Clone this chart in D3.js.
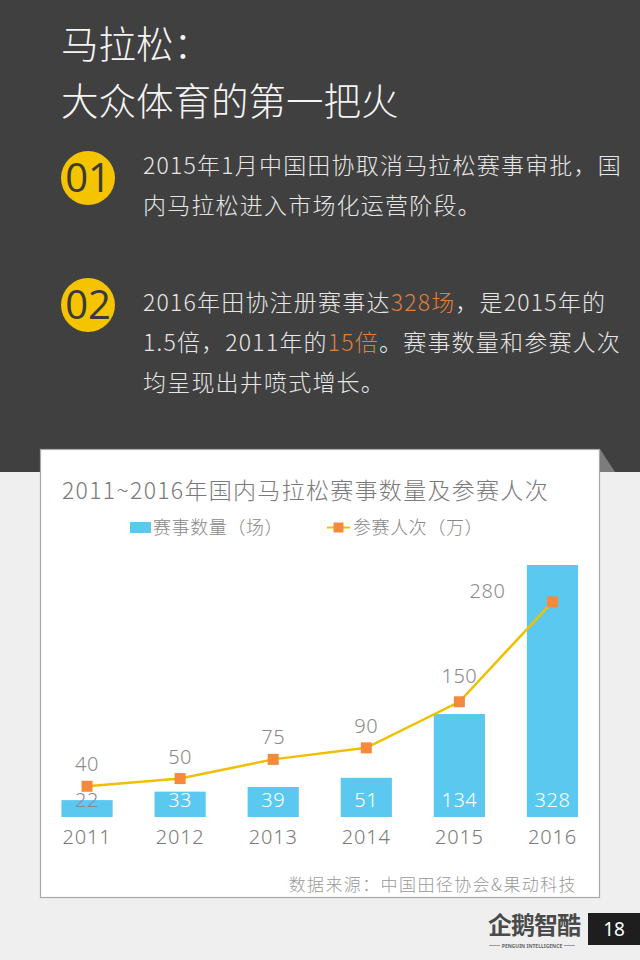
<!DOCTYPE html>
<html>
<head>
<meta charset="utf-8">
<script src="https://cdn.jsdelivr.net/npm/d3@7"></script>
<style>
  html, body { margin: 0; padding: 0; background: #efefef; }
  svg { display: block; }
  text { font-family: "Noto Sans CJK SC", "Noto Sans", sans-serif; font-weight: 300; }
</style>
</head>
<body>
<svg id="chart" width="640" height="960"></svg>
<script>
// ---- data ----
const years = ["2011", "2012", "2013", "2014", "2015", "2016"];
const raceCounts = [22, 33, 39, 51, 134, 328];      // 赛事数量（场）
const participants = [40, 50, 75, 90, 150, 280];    // 参赛人次（万）
const chartTitle = "2011~2016年国内马拉松赛事数量及参赛人次";
const legendLabels = ["赛事数量（场）", "参赛人次（万）"];
const sourceNote = "数据来源：中国田径协会&果动科技";

const svg = d3.select("#chart");
const W = 640, H = 960;
const numFont = "'Noto Sans', 'Open Sans', sans-serif";

// ---- backgrounds ----
svg.append("rect").attr("x", 0).attr("y", 0).attr("width", W).attr("height", H).attr("fill", "#efefef");
svg.append("rect").attr("x", 0).attr("y", 0).attr("width", W).attr("height", 472).attr("fill", "#404040");

// ---- header ----
const white = "#f4f4f4";
svg.append("text").attr("x", 61).attr("y", 58).attr("font-size", 37.5).attr("fill", white).text("马拉松：");
svg.append("text").attr("x", 61).attr("y", 115).attr("font-size", 37.5).attr("fill", white).text("大众体育的第一把火");

function badge(cx, cy, label) {
  svg.append("circle").attr("cx", cx).attr("cy", cy).attr("r", 27).attr("fill", "#f5c400");
  svg.append("text").attr("x", cx).attr("y", cy + 14).attr("text-anchor", "middle")
    .attr("font-size", 40).attr("fill", "#3a3a3a")
    .style("font-weight", 400)
    .style("font-family", "'Liberation Sans Narrow', 'Open Sans', sans-serif")
    .text(label);
}
badge(88, 178, "01");
badge(88, 305, "02");

function para(y, parts) {
  const t = svg.append("text").attr("x", 143).attr("y", y).attr("font-size", 23)
    .attr("letter-spacing", 1.2).attr("fill", "#e6e6e6");
  parts.forEach(p => t.append("tspan").attr("fill", p[1] ? "#e07f3a" : "#e6e6e6").text(p[0]));
}
para(174, [["2015年1月中国田协取消马拉松赛事审批，国"]]);
para(214, [["内马拉松进入市场化运营阶段。"]]);
para(311, [["2016年田协注册赛事达"], ["328场", true], ["，是2015年的"]]);
para(351, [["1.5倍，2011年的"], ["15倍", true], ["。赛事数量和参赛人次"]]);
para(391, [["均呈现出井喷式增长。"]]);

// ---- card ----
svg.append("rect").attr("x", 40.5).attr("y", 449.5).attr("width", 559).attr("height", 448)
  .attr("fill", "#ffffff").attr("stroke", "#a8a8a8").attr("stroke-width", 1.2);
svg.append("path").attr("d", "M600,449 L615,472 L600,472 Z").attr("fill", "#7c7c7c");

svg.append("text").attr("x", 62).attr("y", 499).attr("font-size", 23).attr("letter-spacing", 1.3)
  .attr("fill", "#7a7a7a").text(chartTitle);

// legend
svg.append("rect").attr("x", 130).attr("y", 522).attr("width", 21).attr("height", 11).attr("fill", "#5bc8f0");
svg.append("text").attr("x", 153).attr("y", 534).attr("font-size", 18).attr("letter-spacing", 0.6)
  .attr("fill", "#888").text(legendLabels[0]);
svg.append("line").attr("x1", 327).attr("x2", 350).attr("y1", 527.5).attr("y2", 527.5).attr("stroke", "#f2c200").attr("stroke-width", 2);
svg.append("rect").attr("x", 333.5).attr("y", 522.5).attr("width", 10).attr("height", 10).attr("fill", "#f58a3d");
svg.append("text").attr("x", 353).attr("y", 534).attr("font-size", 18).attr("letter-spacing", 0.6)
  .attr("fill", "#888").text(legendLabels[1]);

// ---- scales ----
const x = d3.scaleBand().domain(years).range([40.5, 599]).paddingInner(0.45).paddingOuter(0.225);
const y = d3.scaleLinear().domain([0, 328]).range([817, 565]);
const cx = d => x(d) + x.bandwidth() / 2;

// bars
const g = svg.append("g");
g.selectAll("rect.bar").data(years).join("rect").attr("class", "bar")
  .attr("x", d => x(d)).attr("width", x.bandwidth())
  .attr("y", (d, i) => y(raceCounts[i])).attr("height", (d, i) => y(0) - y(raceCounts[i]))
  .attr("fill", "#5bc8f0");

// x axis (labels only)
const xAxis = d3.axisBottom(x).tickSize(0).tickPadding(0);
const ax = svg.append("g").attr("transform", "translate(0,830)").call(xAxis);
ax.select(".domain").remove();
ax.selectAll("text").attr("font-size", 20).attr("fill", "#7a7a7a").attr("letter-spacing", 0.8)
  .style("font-family", numFont).attr("dy", "0.71em");

// line
const line = d3.line().x((d, i) => cx(years[i])).y(d => y(d));
g.append("path").datum(participants).attr("d", line).attr("fill", "none")
  .attr("stroke", "#f0c000").attr("stroke-width", 2.5);
g.selectAll("rect.mk").data(participants).join("rect").attr("class", "mk")
  .attr("x", (d, i) => cx(years[i]) - 5.5).attr("y", d => y(d) - 5.5)
  .attr("width", 11).attr("height", 11).attr("fill", "#f58a3d");

// bar value labels
g.selectAll("text.bv").data(raceCounts).join("text").attr("class", "bv")
  .attr("x", (d, i) => cx(years[i])).attr("y", 807).attr("text-anchor", "middle")
  .attr("font-size", 20).style("font-family", numFont).attr("letter-spacing", 0.5)
  .attr("fill", d => (y(0) - y(d) < 25) ? "#8a8a8a" : "#ffffff").text(d => d);

// line value labels
const last = participants.length - 1;
g.selectAll("text.lv").data(participants).join("text").attr("class", "lv")
  .attr("x", (d, i) => cx(years[i]) - (i === last ? 65 : 0))
  .attr("y", (d, i) => y(d) - (i === last ? 4 : (i === last - 1 ? 19 : 15)))
  .attr("text-anchor", "middle").attr("font-size", 20).style("font-family", numFont)
  .attr("letter-spacing", 0.5)
  .attr("fill", "#8a8a8a").text(d => d);

// source
svg.append("text").attr("x", 577).attr("y", 891).attr("text-anchor", "end")
  .attr("font-size", 17).attr("letter-spacing", 1.4).attr("fill", "#999").text(sourceNote);

// ---- footer logo / page ----
svg.append("text").attr("x", 488).attr("y", 934).attr("font-size", 24)
  .style("font-weight", 700).attr("fill", "#4a4a4a").attr("letter-spacing", -1).text("企鹅智酷");
svg.append("line").attr("x1", 489).attr("x2", 575).attr("y1", 945.5).attr("y2", 945.5).attr("stroke", "#888").attr("stroke-width", 0.8);
svg.append("rect").attr("x", 500).attr("y", 942).attr("width", 64).attr("height", 7).attr("fill", "#efefef");
svg.append("text").attr("x", 532).attr("y", 948).attr("text-anchor", "middle").attr("font-size", 5)
  .style("font-family", numFont).style("font-weight", 700).attr("fill", "#666").text("PENGUIN INTELLIGENCE");
svg.append("rect").attr("x", 588).attr("y", 913).attr("width", 52).attr("height", 32).attr("fill", "#1e1e1e");
svg.append("text").attr("x", 614).attr("y", 936).attr("text-anchor", "middle").attr("font-size", 19)
  .attr("fill", "#fff").style("font-weight", 400).style("font-family", numFont).text("18");
</script>
</body>
</html>
